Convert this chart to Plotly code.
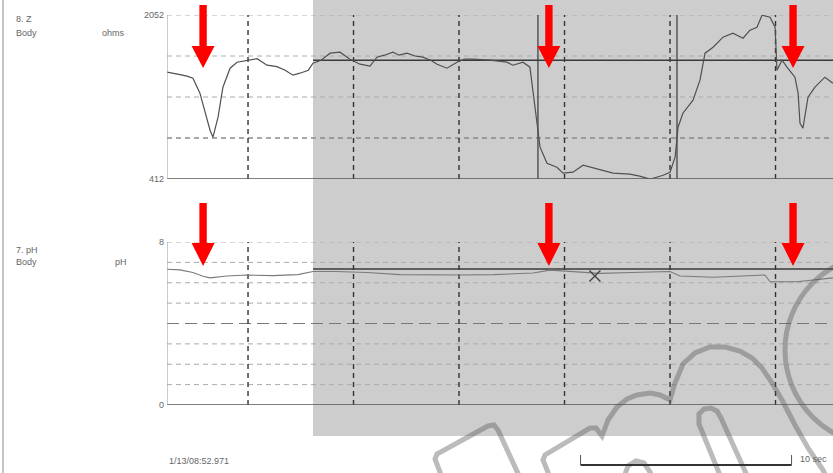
import plotly.graph_objects as go

W, H = 833, 473
X0 = 167            # left edge of plot area (px)
PX_PER_S = 21.1     # time scale
XMAX = (W - X0) / PX_PER_S

# ---------------- data ----------------
imp_t = [0.00, 0.30, 0.62, 0.95, 1.23, 1.56, 1.80, 2.04, 2.18, 2.42, 2.65, 2.99, 3.32, 3.84,
         4.27, 4.74, 5.21, 5.60, 5.97, 6.30, 6.70, 6.92, 7.30, 7.73, 8.20, 8.67, 9.15, 9.62,
         9.95, 10.30, 10.71, 11.00, 11.37, 11.80, 12.13, 12.50, 12.80, 13.27, 13.74, 14.10,
         14.50, 15.31, 16.11, 16.40, 16.87, 17.20, 17.35, 17.54, 17.68, 18.01, 18.48, 18.77,
         19.24, 19.72, 20.10, 20.52, 21.14, 21.94, 22.40, 22.89, 23.51, 23.84, 24.08, 24.22,
         24.45, 24.93, 25.26, 25.50, 25.88, 26.35, 26.82, 27.30, 27.63, 27.96, 28.20, 28.58,
         28.82, 28.91, 29.15, 29.38, 29.76, 29.91, 30.00, 30.14, 30.38, 30.71, 31.18, 31.56]
imp_ohm = [1480, 1470, 1455, 1440, 1420, 1270, 1070, 900, 830, 1030, 1330, 1520, 1580, 1600,
           1615, 1550, 1535, 1500, 1450, 1470, 1500, 1570, 1600, 1670, 1680, 1610, 1560, 1540,
           1630, 1650, 1680, 1650, 1670, 1640, 1630, 1600, 1560, 1520, 1580, 1610,
           1610, 1600, 1580, 1550, 1580, 1530, 1270, 930, 730, 570, 530, 470,
           480, 550, 530, 510, 470, 460, 440, 410, 450, 480, 630, 930,
           1070, 1200, 1400, 1670, 1730, 1830, 1870, 1820, 1900, 1930, 2050, 2030,
           1930, 1500, 1600, 1530, 1430, 1270, 970, 920, 1230, 1330, 1430, 1370]

ph_t = [0.00, 0.62, 1.23, 1.71, 2.04, 2.84, 3.79, 5.02, 6.20, 6.92, 8.00, 9.48, 11.04, 12.50,
        13.89, 15.50, 17.35, 18.15, 19.20, 20.05, 20.52, 22.00, 23.84, 24.31, 25.88, 27.00,
        28.34, 28.58, 29.86, 31.56]
ph_val = [6.66, 6.63, 6.50, 6.32, 6.24, 6.33, 6.38, 6.35, 6.40, 6.55, 6.55, 6.50, 6.40, 6.38,
          6.38, 6.40, 6.48, 6.62, 6.55, 6.48, 6.46, 6.50, 6.55, 6.33, 6.27, 6.32,
          6.38, 6.05, 6.05, 6.24]

z_ticks = [412, 2052]
z_grid = [2052, 1642, 1232, 822]
ph_ticks = [0, 8]
ph_grid = [8, 7, 6, 5, 3, 2, 1]
ph_mid = 4
grid_times = [3.84, 8.84, 13.84, 18.84, 23.84, 28.84]
marker_times = [17.58, 24.17]
event_times = [1.71, 18.10, 29.67]
shade_start = 6.92
imp_baseline = 1600
ph_baseline = 6.68
x_mark_t, x_mark_ph = [20.28], [6.33]
scale_start, scale_len = 19.6, 10.0

# ---------------- helpers (layout only) ----------------
def px(xp):
    return xp / W

def py(yp):
    return 1 - yp / H

def ppath(points, close=False):
    s = "M " + " L ".join(f"{px(a):.4f},{py(b):.4f}" for a, b in points)
    return s + (" Z" if close else "")

fig = go.Figure()

fig.add_trace(go.Scatter(x=imp_t, y=imp_ohm, mode="lines",
                         line=dict(color="#505050", width=1.2), xaxis="x", yaxis="y",
                         showlegend=False, hoverinfo="skip"))
fig.add_trace(go.Scatter(x=ph_t, y=ph_val, mode="lines",
                         line=dict(color="#7a7a7a", width=1.1), xaxis="x2", yaxis="y2",
                         showlegend=False, hoverinfo="skip"))
fig.add_trace(go.Scatter(x=x_mark_t, y=x_mark_ph, mode="markers",
                         marker=dict(symbol="x-thin", size=11, line=dict(color="#444", width=1.4)),
                         xaxis="x2", yaxis="y2", showlegend=False, hoverinfo="skip"))

shapes = []
# gray shaded region
shapes.append(dict(type="rect", xref="x", yref="paper", x0=shade_start, x1=XMAX,
                   y0=py(436), y1=1, fillcolor="#cdcdcd", line_width=0, layer="below"))
# scan edge
shapes.append(dict(type="line", xref="paper", yref="paper", x0=px(3), x1=px(3), y0=0, y1=1,
                   line=dict(color="#c8c2bc", width=2), layer="below"))

# horizontal grids
for i, v in enumerate(z_grid):
    dark = v == 822
    shapes.append(dict(type="line", xref="x", yref="y", x0=0, x1=XMAX, y0=v, y1=v,
                       line=dict(color="#8a8a8a" if dark else "#ababab", width=1.3 if dark else 1,
                                 dash="5px,4px"), layer="below"))
for v in ph_grid:
    shapes.append(dict(type="line", xref="x2", yref="y2", x0=0, x1=XMAX, y0=v, y1=v,
                       line=dict(color="#ababab", width=1, dash="5px,4px"), layer="below"))
shapes.append(dict(type="line", xref="x2", yref="y2", x0=0, x1=XMAX, y0=ph_mid, y1=ph_mid,
                   line=dict(color="#777", width=1.2, dash="12px,6px"), layer="below"))

# vertical dashed grids
for t in grid_times:
    shapes.append(dict(type="line", xref="x", yref="y", x0=t, x1=t, y0=412, y1=2052,
                       line=dict(color="#333", width=1.4, dash="5px,4px"), layer="below"))
    shapes.append(dict(type="line", xref="x2", yref="y2", x0=t, x1=t, y0=0, y1=8,
                       line=dict(color="#333", width=1.4, dash="5px,4px"), layer="below"))
# solid markers (top panel)
for t in marker_times:
    shapes.append(dict(type="line", xref="x", yref="y", x0=t, x1=t, y0=412, y1=2052,
                       line=dict(color="#444", width=1.3), layer="below"))
# baselines
shapes.append(dict(type="line", xref="x", yref="y", x0=shade_start, x1=XMAX, y0=imp_baseline,
                   y1=imp_baseline, line=dict(color="#3a3a3a", width=1.5), layer="below"))
shapes.append(dict(type="line", xref="x2", yref="y2", x0=shade_start, x1=XMAX, y0=ph_baseline,
                   y1=ph_baseline, line=dict(color="#3a3a3a", width=1.5), layer="below"))
# axes lines
shapes.append(dict(type="line", xref="x", yref="y", x0=0, x1=XMAX, y0=412, y1=412,
                   line=dict(color="#555", width=1.6)))
shapes.append(dict(type="line", xref="x2", yref="y2", x0=0, x1=XMAX, y0=0, y1=0,
                   line=dict(color="#555", width=1.6)))
shapes.append(dict(type="line", xref="x", yref="y", x0=0, x1=0, y0=412, y1=2052,
                   line=dict(color="#999", width=1)))
shapes.append(dict(type="line", xref="x2", yref="y2", x0=0, x1=0, y0=0, y1=8,
                   line=dict(color="#999", width=1)))

# watermark outlines
wm = dict(color="rgba(85,85,85,0.40)", width=5)
shapes.append(dict(type="path", xref="paper", yref="paper",
                   path=ppath([(443, 480), (435, 459), (437, 454), (488, 426), (494, 425),
                               (498, 430), (521, 480)]), line=wm))
shapes.append(dict(type="path", xref="paper", yref="paper",
                   path=ppath([(551, 480), (543, 460), (545, 455), (590, 428), (596, 428),
                               (602, 436), (608, 420), (617, 407), (627, 399), (637, 395),
                               (650, 393), (660, 395), (670, 400), (675, 383), (683, 364),
                               (695, 353), (710, 347), (725, 347), (740, 351), (752, 358),
                               (762, 368), (772, 383), (782, 400), (795, 425), (808, 448),
                               (823, 470), (828, 480)]), line=wm))
shapes.append(dict(type="path", xref="paper", yref="paper",
                   path=ppath([(722, 480), (699, 424), (699, 414), (704, 409), (711, 408),
                               (717, 411), (721, 418), (749, 480)]), line=wm))
shapes.append(dict(type="path", xref="paper", yref="paper",
                   path=ppath([(623, 480), (628, 466), (636, 461), (644, 463), (650, 472),
                               (653, 480)]), line=wm))
shapes.append(dict(type="circle", xref="paper", yref="paper", x0=px(785), x1=px(975),
                   y0=py(445), y1=py(255), line=wm))

# red arrows
def arrow(t, ytop, ybase, ytip):
    hw, HW = 3.7 / PX_PER_S, 11.5 / PX_PER_S
    pts = [(t - hw, ytop), (t + hw, ytop), (t + hw, ybase), (t + HW, ybase), (t, ytip),
           (t - HW, ybase), (t - hw, ybase)]
    return "M " + " L ".join(f"{a:.4f},{py(b):.4f}" for a, b in pts) + " Z"

for t in event_times:
    for (a, b, c) in [(5, 46, 68), (203, 243, 266)]:
        shapes.append(dict(type="path", xref="x", yref="paper", path=arrow(t, a, b, c),
                           fillcolor="#ff0000", line_width=0))

# scale bar
s0, s1 = scale_start, scale_start + scale_len
shapes.append(dict(type="line", xref="x", yref="paper", x0=s0, x1=s1, y0=py(465), y1=py(465),
                   line=dict(color="#333", width=2)))
for s in (s0, s1):
    shapes.append(dict(type="line", xref="x", yref="paper", x0=s, x1=s, y0=py(465), y1=py(455),
                       line=dict(color="#555", width=1)))

font = dict(family="Liberation Sans, Arial, sans-serif", size=9, color="#666")
ann = []
def txt(x, y, s, anchor="left", size=9):
    ann.append(dict(xref="paper", yref="paper", x=px(x), y=py(y), text=s, showarrow=False,
                    xanchor=anchor, yanchor="middle", font=dict(font, size=size)))

txt(14, 19, "8. Z")
txt(14, 33, "Body")
txt(100, 33, "ohms")
txt(14, 250, "7. pH")
txt(14, 262, "Body")
txt(113, 262, "pH")
txt(167, 461, "1/13/08:52.971")
txt(798, 459, f"{int(scale_len)} sec")

fig.update_layout(
    width=W, height=H, margin=dict(l=0, r=0, t=0, b=0),
    paper_bgcolor="white", plot_bgcolor="rgba(0,0,0,0)",
    xaxis=dict(domain=[px(X0), 1], range=[0, XMAX], showgrid=False, zeroline=False,
               showticklabels=False, ticks="", anchor="y"),
    xaxis2=dict(domain=[px(X0), 1], range=[0, XMAX], showgrid=False, zeroline=False,
                showticklabels=False, ticks="", anchor="y2", matches="x"),
    yaxis=dict(domain=[py(179), py(15)], range=[412, 2052], showgrid=False, zeroline=False,
               tickvals=z_ticks, ticktext=[str(v) for v in z_ticks], ticks="",
               tickfont=font, ticklabelstandoff=2, automargin=False, anchor="x"),
    yaxis2=dict(domain=[py(405), py(242)], range=[0, 8], showgrid=False, zeroline=False,
                tickvals=ph_ticks, ticktext=[str(v) for v in ph_ticks], ticks="",
                tickfont=font, ticklabelstandoff=2, automargin=False, anchor="x2"),
    shapes=shapes, annotations=ann,
)

fig.write_html("out.html", config={"displayModeBar": False},
               post_script="document.body.style.margin='0';document.body.style.overflow='hidden';")
